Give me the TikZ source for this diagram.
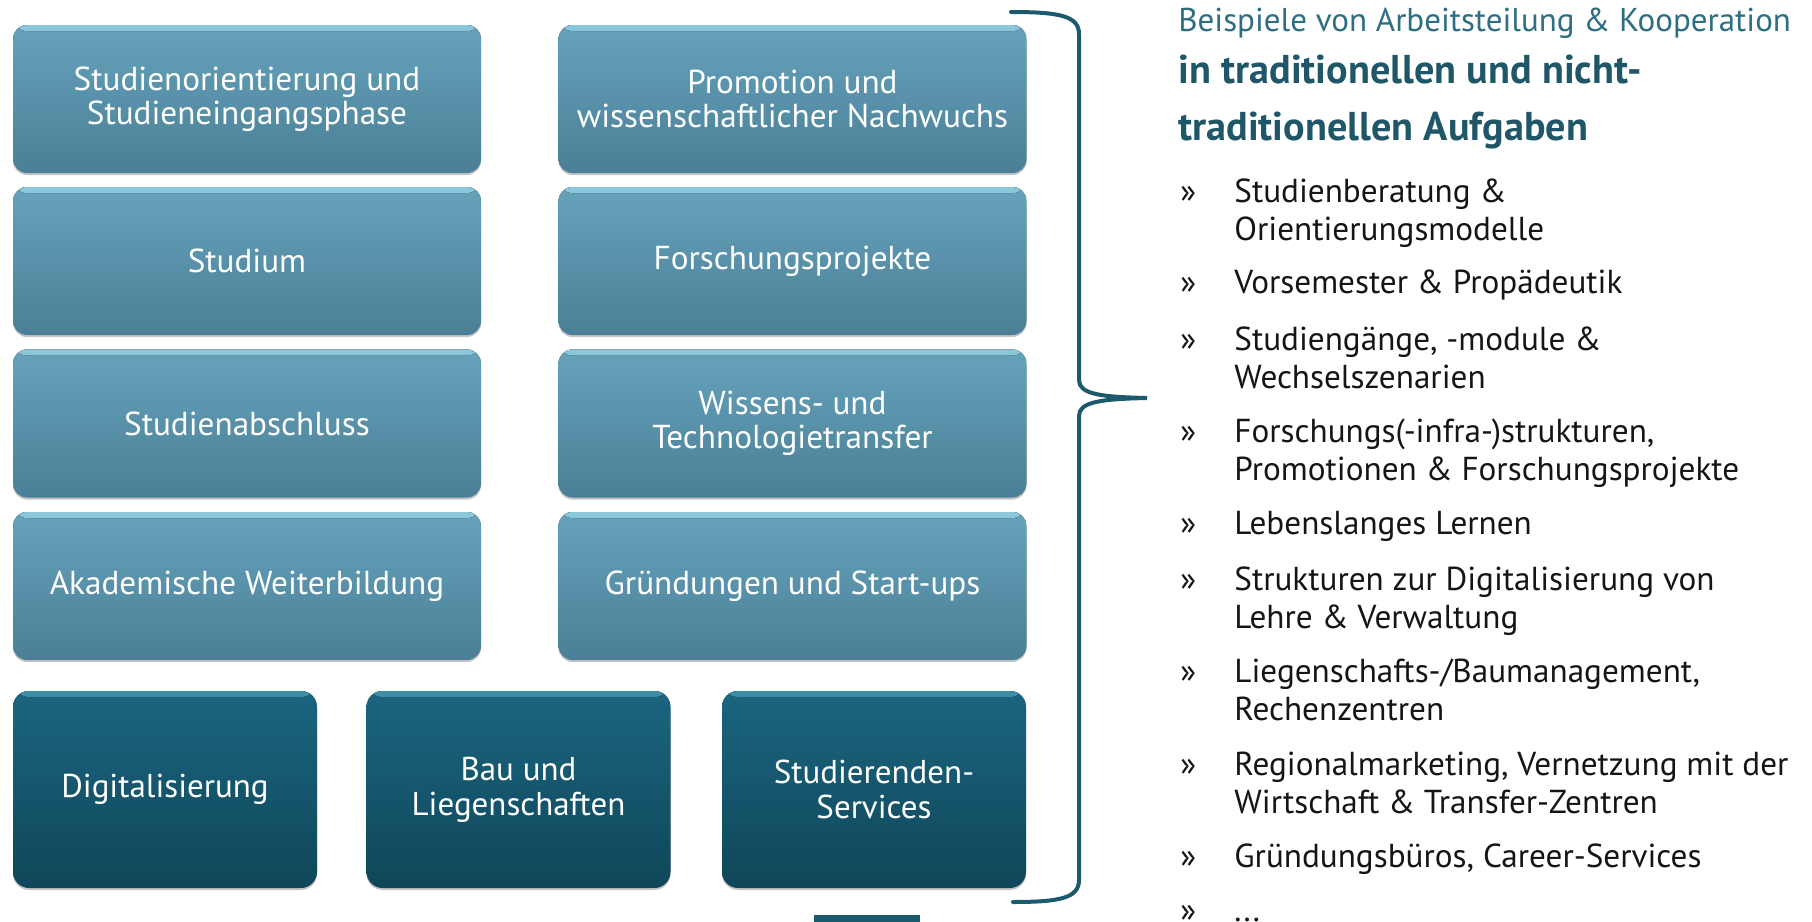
\documentclass[tikz,border=0pt]{standalone}
\usepackage{fontspec}
\setmainfont{PT Sans}
\usetikzlibrary{shadows}

\definecolor{tileTop}{HTML}{66A3BB}
\definecolor{tileBot}{HTML}{4A7F97}
\definecolor{tileHi}{HTML}{8CC8DC}
\definecolor{baseTop}{HTML}{1B6580}
\definecolor{baseBot}{HTML}{0F4759}
\definecolor{baseHi}{HTML}{3F8EA8}
\definecolor{braceCol}{HTML}{1B5A6D}
\definecolor{headA}{HTML}{2E6E83}
\definecolor{headB}{HTML}{1F5768}
\definecolor{itemCol}{HTML}{151515}

\tikzset{
  tile/.style={rounded corners=7pt, text=white, align=center,
    minimum width=234pt, minimum height=74pt,
    top color=tileTop, bottom color=tileBot,
    font=\fontsize{16.6}{17}\selectfont,
    drop shadow={shadow xshift=0pt, shadow yshift=-1pt, opacity=0.45},
    path picture={\fill[top color=tileHi, bottom color=tileTop]
      (path picture bounding box.north west) rectangle
      ([yshift=-3pt]path picture bounding box.north east);}},
  basetile/.style={rounded corners=8pt, text=white, align=center,
    minimum width=152pt, minimum height=98.5pt,
    top color=baseTop, bottom color=baseBot,
    font=\fontsize{16.5}{17.5}\selectfont,
    drop shadow={shadow xshift=0pt, shadow yshift=-1pt, opacity=0.45},
    path picture={\fill[top color=baseHi, bottom color=baseTop]
      (path picture bounding box.north west) rectangle
      ([yshift=-3pt]path picture bounding box.north east);}},
  bullet/.style={anchor=base west, inner sep=0pt, text=itemCol,
    font=\fontsize{16.6}{19}\selectfont},
  item/.style={anchor=base west, inner sep=0pt, align=left, text=itemCol,
    font=\fontsize{16.6}{19}\selectfont},
}

\begin{document}
\begin{tikzpicture}[x=0.5pt, y=-0.5pt]
  \useasboundingbox[fill=white] (0,0) rectangle (1812,922);

  % upper tiles, two columns
  \node[tile] (t11) at (247,99)    {Studienorientierung und\\Studieneingangsphase};
  \node[tile] (t21) at (247,261)   {Studium};
  \node[tile] (t31) at (247,423.5) {Studienabschluss};
  \node[tile] (t41) at (247,586)   {Akademische Weiterbildung};
  \node[tile] (t12) at (792.5,99)    {Promotion und\\wissenschaftlicher Nachwuchs};
  \node[tile] (t22) at (792.5,261)   {Forschungsprojekte};
  \node[tile] (t32) at (792.5,423.5) {Wissens- und\\Technologietransfer};
  \node[tile] (t42) at (792.5,586)   {Gründungen und Start-ups};

  % base row
  \node[basetile] (b1) at (165,789.5)   {Digitalisierung};
  \node[basetile] (b2) at (518.5,789.5) {Bau und\\Liegenschaften};
  \node[basetile] (b3) at (874,789.5)   {Studierenden-\\Services};

  % small bar below the base row
  \fill[braceCol] (814,915) rectangle (920,922);

  % curly brace
  \coordinate (brTop) at (1011,12);
  \coordinate (brTip) at (1147,398);
  \coordinate (brBot) at (1013,902);
  \draw[braceCol, line width=2pt, line cap=round]
    (brTop) .. controls (1060,12) and (1079,16) .. (1079,34)
    -- (1079,380) .. controls (1079,394) and (1100,397) .. (brTip)
    .. controls (1100,399) and (1079,402) .. (1079,416)
    -- (1079,880) .. controls (1079,898) and (1060,902) .. (brBot);

  % heading (base anchor sits on the last line)
  \node[anchor=base west, inner sep=0pt, text=headA,
        font=\fontsize{16.5}{18}\selectfont] (h1) at (1178,31)
        {Beispiele von Arbeitsteilung \& Kooperation};
  \node[anchor=base west, inner sep=0pt, text=headB,
        font=\bfseries\fontsize{20.1}{28.5}\selectfont, align=left] (h2) at (1178,140)
        {in traditionellen und nicht-\\traditionellen Aufgaben};

  % list: bullet on the first line, text node based on its last line
  \foreach \yy/\ll/\txt [count=\i] in {
      202/240/{Studienberatung \&\\Orientierungsmodelle},
      293/293/{Vorsemester \& Propädeutik},
      350/388/{Studiengänge, -module \&\\Wechselszenarien},
      442/480/{Forschungs(-infra-)strukturen,\\Promotionen \& Forschungsprojekte},
      534/534/{Lebenslanges Lernen},
      590/628/{Strukturen zur Digitalisierung von\\Lehre \& Verwaltung},
      682/720/{Liegenschafts-/Baumanagement,\\Rechenzentren},
      775/813/{Regionalmarketing, Vernetzung mit der\\Wirtschaft \& Transfer-Zentren},
      867/867/{Gründungsbüros, Career-Services},
      921/921/{...}}{
    \node[bullet] (m\i) at (1180,\yy) {»};
    \node[item] (i\i) at (1234,\ll) {\txt};
  }
\end{tikzpicture}
\end{document}
